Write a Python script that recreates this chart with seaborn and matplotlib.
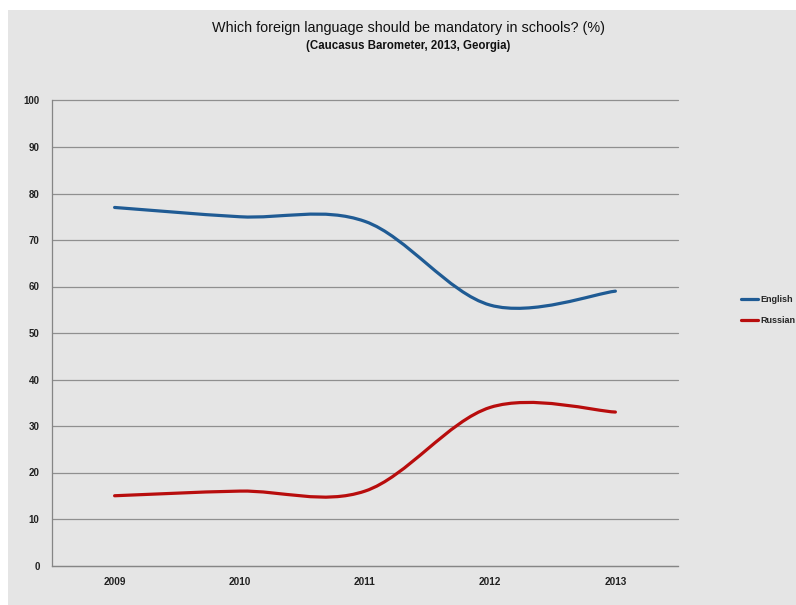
import matplotlib
matplotlib.use("Agg")
import matplotlib.pyplot as plt
from matplotlib.path import Path
from matplotlib.patches import PathPatch, Rectangle
from matplotlib.lines import Line2D
import seaborn as sns

# data
years = ["2009", "2010", "2011", "2012", "2013"]
english = [77, 75, 74, 56, 59]
russian = [15, 16, 16, 34, 33]
series_names = ["English", "Russian"]
series_colors = ["#1f5b94", "#b80d0d"]
y_ticks = [0, 10, 20, 30, 40, 50, 60, 70, 80, 90, 100]

TITLE = "Which foreign language should be mandatory in schools? (%)"
SUBTITLE = "(Caucasus Barometer, 2013, Georgia)"
FONT = ["Liberation Sans Narrow", "Liberation Sans", "DejaVu Sans"]
BG = "#e5e5e5"


def smooth_path(xs, ys):
    # Excel-style smoothed line: cubic bezier through every point,
    # control points from neighbouring points (catmull-rom, 1/6)
    pts = list(zip(xs, ys))
    n = len(pts)
    verts = [pts[0]]
    codes = [Path.MOVETO]
    for i in range(n - 1):
        p0 = pts[i - 1] if i > 0 else pts[i]
        p1 = pts[i]
        p2 = pts[i + 1]
        p3 = pts[i + 2] if i + 2 < n else pts[i + 1]
        c1 = (p1[0] + (p2[0] - p0[0]) / 6, p1[1] + (p2[1] - p0[1]) / 6)
        c2 = (p2[0] - (p3[0] - p1[0]) / 6, p2[1] - (p3[1] - p1[1]) / 6)
        verts += [c1, c2, p2]
        codes += [Path.CURVE4] * 3
    return Path(verts, codes)


sns.set_style("white")
plt.rcParams["font.family"] = FONT

fig = plt.figure(figsize=(7.96, 6.05), dpi=100, facecolor="white")
# grey chart background with the thin white border of the screenshot
fig.patches.append(Rectangle((8 / 796, 0), 1, 1 - 10 / 605, transform=fig.transFigure,
                             facecolor=BG, edgecolor="none", zorder=-1))

ax = fig.add_axes([52 / 796, 39.5 / 605, 626 / 796, 465 / 605])
ax.set_facecolor(BG)

xs = list(range(len(years)))
for name, vals, col in zip(series_names, [english, russian], series_colors):
    ax.add_patch(PathPatch(smooth_path(xs, vals), facecolor="none", edgecolor=col,
                           linewidth=2.3, capstyle="round", zorder=3))

ax.set_xlim(-0.5, len(years) - 0.5)
ax.set_ylim(0, 100)
ax.set_yticks(y_ticks)
ax.set_yticklabels([str(v) for v in y_ticks], fontsize=7, fontweight="bold", color="#222222")
ax.set_xticks(xs)
ax.set_xticklabels(years, fontsize=7.2, fontweight="bold", color="#222222")
ax.set_xticks([i - 0.5 for i in range(len(years) + 1)], minor=True)
ax.tick_params(axis="x", which="major", length=0, pad=8)
ax.tick_params(axis="x", which="minor", length=3, color="#888888", width=0.8)
ax.tick_params(axis="y", length=3, color="#888888", width=0.8, pad=6)

ax.grid(axis="y", color="#8f8f8f", linewidth=0.9)
ax.grid(axis="x", visible=False)
ax.set_axisbelow(True)
for gl in ax.get_ygridlines():
    gl.set_clip_on(False)
for side in ["top", "right"]:
    ax.spines[side].set_visible(False)
for side in ["left", "bottom"]:
    ax.spines[side].set_color("#858585")
    ax.spines[side].set_linewidth(0.9)

fig.text(408 / 796, 1 - 28 / 605, TITLE, ha="center", va="center", fontsize=10.4, color="#111111")
fig.text(408 / 796, 1 - 46 / 605, SUBTITLE, ha="center", va="center", fontsize=8.3,
         fontweight="bold", color="#111111")

handles = [Line2D([], [], color=c, linewidth=2.3) for c in series_colors]
leg = fig.legend(handles, series_names, loc="center left", bbox_to_anchor=(737 / 796, 1 - 310 / 605),
                 frameon=False, handlelength=1.9, handletextpad=0.25, labelspacing=1.3,
                 borderaxespad=0, prop={"size": 6.5, "weight": "bold", "family": FONT})

fig.savefig("out.png", dpi=100, facecolor=fig.get_facecolor())
